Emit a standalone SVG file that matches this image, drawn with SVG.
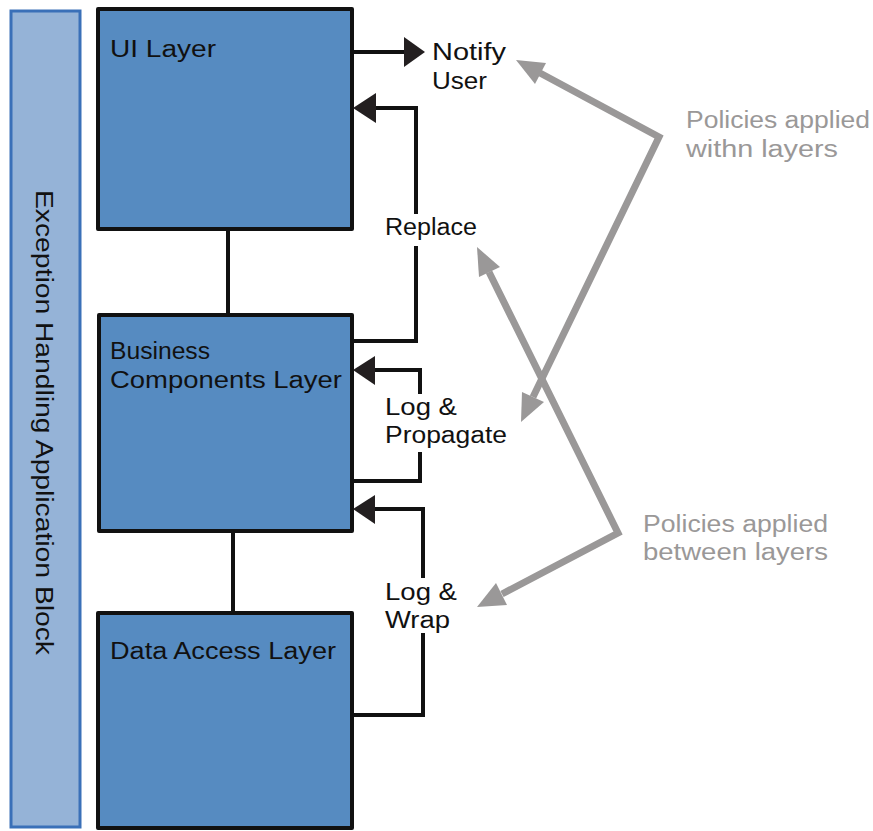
<svg xmlns="http://www.w3.org/2000/svg" width="873" height="831" viewBox="0 0 873 831">
<style>
.layer{fill:#568bc1;stroke:#111;stroke-width:4;stroke-linejoin:round}
.lbl{font-family:"Liberation Sans",Arial,sans-serif;font-size:23px;fill:#111}
.gl{font-family:"Liberation Sans",Arial,sans-serif;font-size:23px;fill:#9a9898}
.ln{fill:none;stroke:#111;stroke-width:4}
.hd{fill:#231f20}
.gy{fill:none;stroke:#9a9898;stroke-width:7;stroke-linejoin:miter}
.gh{fill:#9a9898}
</style>
<rect width="873" height="831" fill="#fff"/>
<g id="block">
<rect x="11" y="11" width="69" height="816" fill="#95b3d7" stroke="#3a70b8" stroke-width="3"/>
<text class="lbl" transform="translate(36,190) rotate(90)" textLength="465" lengthAdjust="spacingAndGlyphs">Exception Handling Application Block</text>
</g>
<g id="ui">
<rect class="layer" x="98" y="9" width="254" height="220"/>
<text class="lbl" x="110" y="57" textLength="106" lengthAdjust="spacingAndGlyphs">UI Layer</text>
</g>
<g id="business">
<rect class="layer" x="99" y="315" width="253" height="216"/>
<text class="lbl" x="110" y="359" textLength="100" lengthAdjust="spacingAndGlyphs">Business</text>
<text class="lbl" x="110" y="388" textLength="232" lengthAdjust="spacingAndGlyphs">Components Layer</text>
</g>
<g id="data">
<rect class="layer" x="98" y="613" width="254" height="215"/>
<text class="lbl" x="110" y="659" textLength="226" lengthAdjust="spacingAndGlyphs">Data Access Layer</text>
</g>
<g id="connectors">
<line class="ln" x1="228" y1="229" x2="228" y2="315"/>
<line class="ln" x1="233" y1="531" x2="233" y2="613"/>
<line class="ln" x1="354" y1="52" x2="408" y2="52" stroke-width="5"/>
<polygon class="hd" points="404,37 425,52 404,67"/>
<polyline class="ln" points="352,341 416,341 416,246"/>
<polyline class="ln" points="416,214 416,108 372,108"/>
<polygon class="hd" points="376,93 353,108 376,123"/>
<polyline class="ln" points="352,481 420,481 420,452"/>
<polyline class="ln" points="420,394 420,370 372,370"/>
<polygon class="hd" points="375,356 353,370 375,385"/>
<polyline class="ln" points="352,715 423,715 423,633"/>
<polyline class="ln" points="423,578 423,509 372,509"/>
<polygon class="hd" points="375,495 353,509 375,524"/>
</g>
<g id="notify">
<text class="lbl" x="432" y="60" textLength="74" lengthAdjust="spacingAndGlyphs">Notify</text>
<text class="lbl" x="432" y="89" textLength="55" lengthAdjust="spacingAndGlyphs">User</text>
</g>
<g id="replace">
<text class="lbl" x="385" y="235" textLength="92" lengthAdjust="spacingAndGlyphs">Replace</text>
</g>
<g id="logprop">
<text class="lbl" x="385" y="415" textLength="72" lengthAdjust="spacingAndGlyphs">Log &amp;</text>
<text class="lbl" x="385" y="443" textLength="122" lengthAdjust="spacingAndGlyphs">Propagate</text>
</g>
<g id="logwrap">
<text class="lbl" x="385" y="600" textLength="72" lengthAdjust="spacingAndGlyphs">Log &amp;</text>
<text class="lbl" x="385" y="628" textLength="65" lengthAdjust="spacingAndGlyphs">Wrap</text>
</g>
<g id="within">
<text class="gl" x="686" y="128" textLength="184" lengthAdjust="spacingAndGlyphs">Policies applied</text>
<text class="gl" x="686" y="157" textLength="152" lengthAdjust="spacingAndGlyphs">withn layers</text>
<polyline class="gy" points="540,73 659,137 533,397"/>
<polygon class="gh" points="516,60 546,63 535,84"/>
<polygon class="gh" points="521,422 544,402 522,392"/>
</g>
<g id="between">
<text class="gl" x="643" y="532" textLength="185" lengthAdjust="spacingAndGlyphs">Policies applied</text>
<text class="gl" x="643" y="560" textLength="185" lengthAdjust="spacingAndGlyphs">between layers</text>
<polyline class="gy" points="489,272 618,533 502,594"/>
<polygon class="gh" points="477,247 500,267 479,277"/>
<polygon class="gh" points="477,607 507,605 496,583"/>
</g>
</svg>
